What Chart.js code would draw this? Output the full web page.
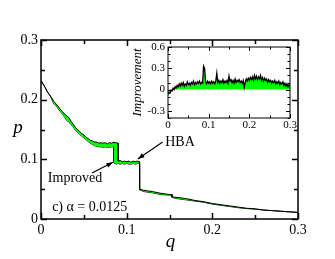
<!DOCTYPE html>
<html>
<head>
<meta charset="utf-8">
<script src="https://cdn.jsdelivr.net/npm/chart.js@4"></script>
<style>
  body { margin: 0; background: #fff; }
  #wrap { position: relative; width: 335px; height: 259px; }
  #main { position: absolute; left: 0; top: 0; }
  #inset { position: absolute; left: 120px; top: 30px; }
</style>
</head>
<body>
<div id="wrap">
  <canvas id="main" width="335" height="259"></canvas>
  <canvas id="inset" width="180" height="105"></canvas>
</div>
<script>
// main panel: p(q) for HBA and improved, the gap between them filled green
const qMain = [0, 0.0025, 0.005, 0.0075, 0.01, 0.0125, 0.015, 0.0175, 0.02, 0.0225, 0.025, 0.0275, 0.03, 0.0325, 0.035, 0.0375,
  0.04, 0.0425, 0.045, 0.0475, 0.05, 0.0525, 0.055, 0.0575, 0.06, 0.0625, 0.065, 0.0675, 0.07, 0.0725, 0.075, 0.0775, 0.08, 0.0825,
  0.085, 0.0851, 0.0875, 0.09, 0.0901, 0.0925, 0.095, 0.0975, 0.1, 0.1025, 0.105, 0.1075, 0.11, 0.1125, 0.115, 0.1151,
  0.12, 0.13, 0.14, 0.15, 0.153, 0.1531, 0.16, 0.17, 0.18, 0.19, 0.2, 0.21, 0.22, 0.23, 0.24, 0.25, 0.26, 0.27, 0.28, 0.29, 0.3];
const pHBA = [0.232, 0.226, 0.220, 0.213, 0.208, 0.203, 0.197, 0.193, 0.189, 0.184, 0.180, 0.176, 0.173, 0.170, 0.164, 0.159,
  0.154, 0.150, 0.147, 0.143, 0.141, 0.137, 0.135, 0.132, 0.131, 0.129, 0.129, 0.127, 0.128, 0.127, 0.128, 0.126, 0.128, 0.127,
  0.129, 0.128, 0.128, 0.127, 0.097, 0.098, 0.096, 0.097, 0.096, 0.097, 0.095, 0.097, 0.096, 0.097, 0.096, 0.050,
  0.048, 0.046, 0.043, 0.041, 0.041, 0.037, 0.036, 0.034, 0.031, 0.029, 0.026, 0.024, 0.022, 0.020, 0.018, 0.017, 0.015, 0.014, 0.013, 0.012, 0.011];
const pImproved = [0.232, 0.226, 0.220, 0.213, 0.208, 0.201, 0.193, 0.190, 0.185, 0.180, 0.176, 0.171, 0.165, 0.163, 0.158, 0.155,
  0.149, 0.146, 0.142, 0.139, 0.136, 0.133, 0.130, 0.127, 0.125, 0.123, 0.122, 0.121, 0.121, 0.120, 0.121, 0.120, 0.120, 0.121,
  0.121, 0.094, 0.092, 0.093, 0.093, 0.092, 0.093, 0.092, 0.093, 0.092, 0.092, 0.093, 0.092, 0.093, 0.093, 0.049,
  0.046, 0.044, 0.041, 0.040, 0.040, 0.036, 0.034, 0.032, 0.030, 0.028, 0.025, 0.023, 0.021, 0.019, 0.0175, 0.0165, 0.015, 0.014, 0.013, 0.012, 0.011];
const mainXTicks = [0, 0.05, 0.1, 0.15, 0.2, 0.25, 0.3];
const mainYTicks = [0, 0.05, 0.1, 0.15, 0.2, 0.25, 0.3];

// inset: improvement vs q
const qInset = [0, 0.0025, 0.005, 0.0075, 0.01, 0.0125, 0.015, 0.0175, 0.02, 0.0225, 0.025, 0.0275, 0.03, 0.0325, 0.035, 0.0375,
  0.04, 0.0425, 0.045, 0.0475, 0.05, 0.0525, 0.055, 0.0575, 0.06, 0.0625, 0.065, 0.0675, 0.07, 0.0725, 0.075, 0.0775,
  0.08, 0.0825, 0.085, 0.0875, 0.09, 0.0925, 0.095, 0.0975, 0.1, 0.1025, 0.105, 0.1075, 0.11, 0.1125, 0.115, 0.1175,
  0.12, 0.1225, 0.125, 0.1275, 0.13, 0.1325, 0.135, 0.1375, 0.14, 0.1425, 0.145, 0.1475, 0.15, 0.1525, 0.155, 0.1575,
  0.16, 0.1625, 0.165, 0.1675, 0.17, 0.1725, 0.175, 0.1775, 0.18, 0.1825, 0.185, 0.1875, 0.19, 0.1925, 0.195, 0.1975,
  0.2, 0.2025, 0.205, 0.2075, 0.21, 0.2125, 0.215, 0.2175, 0.22, 0.2225, 0.225, 0.2275, 0.23, 0.2325, 0.235, 0.2375,
  0.24, 0.2425, 0.245, 0.2475, 0.25, 0.2525, 0.255, 0.2575, 0.26, 0.2625, 0.265, 0.2675, 0.27, 0.2725, 0.275, 0.2775,
  0.28, 0.2825, 0.285, 0.2875, 0.29, 0.2925, 0.295, 0.2975, 0.3];
const improvement = [-0.07, -0.04, -0.05, -0.01, -0.02, 0.02, 0.00, 0.04, 0.02, 0.06, 0.04, 0.08, 0.05, 0.09, 0.06, 0.10,
  0.05, 0.08, 0.06, 0.11, 0.07, 0.09, 0.06, 0.10, 0.08, 0.12, 0.07, 0.10, 0.08, 0.11, 0.09, 0.12,
  0.08, 0.10, 0.09, 0.33, 0.30, 0.11, 0.08, 0.12, 0.09, 0.11, 0.08, 0.12, 0.09, 0.11, 0.08, 0.12,
  0.23, 0.10, 0.13, 0.09, 0.12, 0.10, 0.14, 0.09, 0.12, 0.10, 0.13, 0.09, 0.19, 0.12, 0.14, 0.10,
  0.13, 0.09, 0.15, 0.10, 0.13, 0.11, 0.14, 0.10, 0.12, 0.09, 0.13, 0.03, 0.11, 0.15, 0.12, 0.16,
  0.13, 0.17, 0.14, 0.18, 0.13, 0.20, 0.15, 0.19, 0.14, 0.18, 0.15, 0.20, 0.13, 0.17, 0.12, 0.16,
  0.13, 0.15, 0.10, 0.14, 0.11, 0.13, 0.09, 0.12, 0.10, 0.13, 0.08, 0.11, 0.09, 0.12, 0.07, 0.10,
  0.08, 0.11, 0.06, 0.09, 0.05, 0.08, 0.04, 0.07, 0.05];
const insetXTicks = [0, 0.05, 0.1, 0.15, 0.2, 0.25, 0.3];
const insetYTicks = [-0.4, -0.3, -0.2, -0.1, 0, 0.1, 0.2, 0.3, 0.4, 0.5, 0.6];

const SERIF = "'Liberation Serif', 'DejaVu Serif', serif";
const GREEN = '#00ff00';

function pts(xs, ys) { return xs.map((x, i) => ({ x: x, y: ys[i] })); }
function isMajor(v, step) { const r = v / step; return Math.abs(r - Math.round(r)) < 1e-6; }
function lbl(step) { return v => isMajor(v, step) ? String(+v.toFixed(2)) : ''; }

// box round the plot area plus ticks pointing inwards on all four sides
const frame = {
  id: 'frame',
  afterDraw(chart, args, o) {
    const { ctx, chartArea: a, scales } = chart;
    ctx.save();
    ctx.strokeStyle = '#000';
    ctx.lineWidth = o.lw;
    ctx.beginPath();
    scales.x.ticks.forEach(t => {
      const x = Math.round(scales.x.getPixelForValue(t.value)) + 0.5;
      const len = isMajor(t.value, o.xMajor) ? o.big : o.small;
      ctx.moveTo(x, a.bottom); ctx.lineTo(x, a.bottom - len);
      ctx.moveTo(x, a.top); ctx.lineTo(x, a.top + len);
    });
    scales.y.ticks.forEach(t => {
      const y = Math.round(scales.y.getPixelForValue(t.value)) + 0.5;
      const len = isMajor(t.value, o.yMajor) ? o.big : o.small;
      ctx.moveTo(a.left, y); ctx.lineTo(a.left + len, y);
      ctx.moveTo(a.right, y); ctx.lineTo(a.right - len, y);
    });
    ctx.stroke();
    ctx.strokeRect(a.left, a.top, a.right - a.left, a.bottom - a.top);
    ctx.restore();
  }
};

function arrow(ctx, x1, y1, x2, y2) {
  const ang = Math.atan2(y2 - y1, x2 - x1), h = 7;
  ctx.beginPath(); ctx.moveTo(x1, y1); ctx.lineTo(x2, y2); ctx.stroke();
  ctx.beginPath();
  ctx.moveTo(x2, y2);
  ctx.lineTo(x2 - h * Math.cos(ang - 0.35), y2 - h * Math.sin(ang - 0.35));
  ctx.lineTo(x2 - h * Math.cos(ang + 0.35), y2 - h * Math.sin(ang + 0.35));
  ctx.closePath(); ctx.fill();
}

// labels and arrows inside the main panel, placed in data units
const notes = {
  id: 'notes',
  afterDraw(chart) {
    const { ctx, scales: { x, y } } = chart;
    const X = v => x.getPixelForValue(v), Y = v => y.getPixelForValue(v);
    ctx.save();
    ctx.fillStyle = '#000'; ctx.strokeStyle = '#000'; ctx.lineWidth = 1.2;
    ctx.font = '14px ' + SERIF;
    ctx.textBaseline = 'middle'; ctx.textAlign = 'left';
    ctx.fillText('Improved', X(0.008), Y(0.069));
    ctx.fillText('HBA', X(0.145), Y(0.128));
    ctx.fillText('c) α = 0.0125', X(0.013), Y(0.020));
    arrow(ctx, X(0.0595), Y(0.077), X(0.084), Y(0.095));
    arrow(ctx, X(0.142), Y(0.129), X(0.113), Y(0.1005));
    // axis letters, upright italic
    ctx.font = 'italic 19px ' + SERIF;
    ctx.textAlign = 'center';
    ctx.fillText('p', 18, (chart.chartArea.top + chart.chartArea.bottom) / 2 - 2);
    ctx.fillText('q', (chart.chartArea.left + chart.chartArea.right) / 2 + 1, 242);
    ctx.restore();
  }
};

function axis(ticksArr, min, max, step, size, fit) {
  return {
    type: 'linear', min: min, max: max,
    afterBuildTicks: s => { s.ticks = ticksArr.map(v => ({ value: v })); },
    afterFit: fit,
    grid: { display: false, drawTicks: false },
    border: { display: false },
    ticks: { callback: lbl(step), color: '#000', font: { family: SERIF, size: size }, padding: 3, maxRotation: 0, autoSkip: false }
  };
}

new Chart(document.getElementById('main'), {
  type: 'line',
  data: {
    datasets: [
      { label: 'HBA', data: pts(qMain, pHBA), borderColor: '#000', borderWidth: 1, pointRadius: 0, fill: '+1', backgroundColor: GREEN },
      { label: 'Improved', data: pts(qMain, pImproved), borderColor: '#000', borderWidth: 1, pointRadius: 0, fill: false }
    ]
  },
  options: {
    responsive: false, animation: false,
    layout: { padding: { top: 40, right: 37, left: 0, bottom: 0 } },
    plugins: { legend: { display: false }, tooltip: { enabled: false },
      frame: { lw: 1.5, big: 6, small: 4, xMajor: 0.1, yMajor: 0.1 } },
    scales: {
      x: axis(mainXTicks, 0, 0.3, 0.1, 14, s => { s.height = 40; }),
      y: axis(mainYTicks, 0, 0.3, 0.1, 14, s => { s.width = 41; })
    }
  },
  plugins: [frame, notes]
});

const insetY = axis(insetYTicks, -0.4, 0.6, 0.3, 11, s => { s.width = 48; });
insetY.ticks.padding = 3;
insetY.title = { display: true, text: 'Improvement', color: '#000', font: { family: SERIF, size: 13, style: 'italic' }, padding: { top: 10, bottom: 0 } };
const insetX = axis(insetXTicks, 0, 0.3, 0.1, 11, s => { s.height = 17; });
insetX.ticks.padding = 1;

new Chart(document.getElementById('inset'), {
  type: 'line',
  data: {
    datasets: [
      { label: 'Improvement', data: pts(qInset, improvement), borderColor: '#000', borderWidth: 1.3, pointRadius: 0, fill: 'origin', backgroundColor: GREEN }
    ]
  },
  options: {
    responsive: false, animation: false,
    layout: { padding: { top: 17, right: 10, left: 0, bottom: 0 } },
    plugins: { legend: { display: false }, tooltip: { enabled: false },
      frame: { lw: 1, big: 4, small: 2.5, xMajor: 0.1, yMajor: 0.3 } },
    scales: { x: insetX, y: insetY }
  },
  plugins: [frame]
});
</script>
</body>
</html>
